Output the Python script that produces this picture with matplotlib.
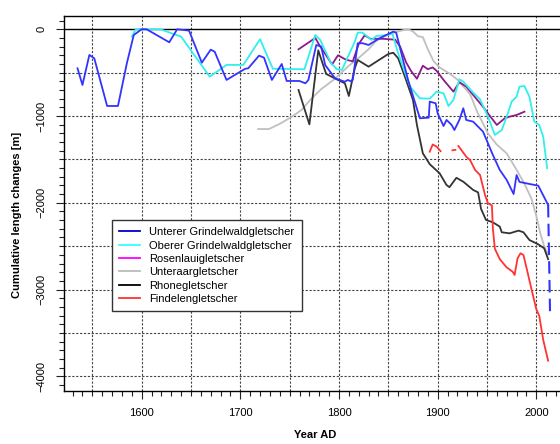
import numpy as np
import matplotlib
matplotlib.use("Agg")
import matplotlib.pyplot as plt
from matplotlib.lines import Line2D
from matplotlib.ticker import MultipleLocator

plt.rcParams['font.family'] = ['Liberation Sans', 'DejaVu Sans']

# Unterer Grindelwaldgletscher
ugr_year = [1535, 1540, 1547, 1552, 1565, 1576, 1585, 1592, 1600, 1605, 1628, 1636, 1648,
            1661, 1670, 1674, 1686, 1705, 1708, 1719, 1724, 1732, 1742, 1747, 1760, 1766,
            1769, 1777, 1782, 1786, 1791, 1796, 1806, 1809, 1812, 1814, 1819, 1824, 1830,
            1841, 1855, 1858, 1870, 1882, 1891, 1892, 1898, 1900, 1906, 1909, 1914, 1917,
            1922, 1926, 1929, 1936, 1946, 1956, 1963, 1970, 1977, 1980, 1983, 1990, 2002, 2012]
ugr_len = [-450, -642, -296, -335, -884, -884, -392, -66, 0, 0, -150, 0, -15,
           -385, -235, -258, -584, -455, -450, -304, -327, -584, -400, -596, -596, -623,
           -584, -181, -200, -411, -489, -565, -604, -584, -600, -584, -161, -161, -181,
           -104, -27, -39, -584, -1026, -1019, -834, -853, -969, -1115, -1045, -1100, -1161,
           -1045, -911, -1045, -1065, -1180, -1449, -1622, -1737, -1899, -1680, -1760, -1776, -1803, -2025]
# letzter Abschnitt gestrichelt
ugr_dash_year = [2012, 2014]
ugr_dash_len = [-2025, -3320]

# Oberer Grindelwaldgletscher
ogr_year = [1590, 1594, 1619, 1640, 1669, 1686, 1703, 1720, 1733, 1765, 1776, 1781, 1792,
            1798, 1803, 1816, 1819, 1824, 1833, 1838, 1850, 1854, 1860, 1872, 1882, 1892,
            1899, 1906, 1911, 1916, 1922, 1926, 1936, 1943, 1951, 1958, 1965, 1970, 1975,
            1980, 1983, 1988, 1993, 1998, 2003, 2007, 2011]
ogr_len = [-85, 0, 0, -85, -546, -411, -411, -115, -455, -461, -66, -123, -392,
           -461, -469, -143, -39, -39, -123, -77, -66, -46, -277, -661, -796, -800,
           -719, -738, -884, -815, -577, -604, -731, -807, -1007, -1218, -1161, -1007, -834,
           -777, -661, -654, -777, -1065, -1103, -1238, -1602]

# Rosenlauigletscher
ros_year = [1759, 1776, 1780, 1793, 1799, 1807, 1814, 1820, 1826, 1832, 1845, 1857, 1862,
            1868, 1873, 1879, 1885, 1890, 1895, 1899, 1906, 1916, 1922, 1929, 1945, 1960,
            1968, 1973, 1980, 1988]
ros_len = [-231, -100, -180, -405, -300, -350, -370, -170, -70, -110, -110, -120, -200,
           -380, -480, -570, -420, -460, -440, -480, -584, -719, -610, -661, -880, -1103,
           -1026, -1007, -988, -950]

# Unteraargletscher
uaa_year = [1718, 1729, 1740, 1752, 1762, 1772, 1782, 1796, 1810, 1820, 1830, 1838, 1848,
            1855, 1865, 1870, 1875, 1880, 1885, 1890, 1896, 1902, 1912, 1920, 1933, 1940,
            1951, 1960, 1970, 1980, 1988, 1995, 2000, 2004, 2008, 2012]
uaa_len = [-1150, -1150, -1090, -1010, -930, -800, -690, -570, -420, -330, -230, -130, -70,
           -40, -10, 0, -25, -80, -90, -230, -370, -440, -510, -580, -750, -950,
           -1200, -1330, -1430, -1620, -1780, -1950, -2150, -2350, -2500, -2600]

# Rhonegletscher
rho_year = [1759, 1770, 1779, 1787, 1799, 1806, 1810, 1816, 1819, 1830, 1850, 1855, 1860,
            1868, 1875, 1879, 1885, 1892, 1902, 1909, 1912, 1919, 1926, 1936, 1941, 1944,
            1949, 1956, 1963, 1965, 1973, 1982, 1987, 1993, 2002, 2008, 2012]
rho_len = [-700, -1096, -243, -515, -584, -623, -769, -450, -354, -431, -285, -270, -334,
           -584, -815, -1103, -1430, -1555, -1660, -1795, -1820, -1712, -1757, -1852, -1880, -2070,
           -2198, -2225, -2275, -2340, -2352, -2321, -2340, -2429, -2479, -2525, -2650]

# Findelengletscher (Lücken = nan)
fin_year = [1892, 1895, 1899, 1903, 1909, 1915, 1918, 1919, 1921, 1929, 1933, 1938, 1943,
            1948, 1951, 1955, 1956, 1958, 1963, 1970, 1976, 1978, 1981, 1984, 1987, 1991,
            1995, 2000, 2003, 2007, 2012]
fin_len = [-1411, -1328, -1353, -1405, np.nan, -1395, -1390, np.nan, -1345, -1468, -1510, -1622, -1680,
           -1910, -2006, -2030, -2300, -2530, -2650, -2745, -2794, -2832, -2640, -2582, -2602, -2794,
           -2990, -3226, -3303, -3580, -3820]

glaciers = ["Unterer Grindelwaldgletscher", "Oberer Grindelwaldgletscher", "Rosenlauigletscher",
            "Unteraargletscher", "Rhonegletscher", "Findelengletscher"]
legend_colors = ['#0000cc', '#33ffff', '#ff00ff', '#bbbbbb', '#000000', '#ff3333']

fig = plt.figure(figsize=(5.6, 4.44), dpi=100)
ax = fig.add_axes([64 / 560, 1 - 390.7 / 444, 501.9 / 560, 374.7 / 444])

# Gitter
for gx in np.arange(1550, 2001, 50):
    ax.axvline(gx, color='#444444', lw=0.8, ls=(0, (2, 1.5)), zorder=1)
for gy in np.arange(-4000, -1, 500):
    ax.axhline(gy, color='#444444', lw=0.8, ls=(0, (2, 1.5)), zorder=1)
ax.axhline(0, color='black', lw=1.0, zorder=1)

lw = 1.3
ax.plot(uaa_year, uaa_len, color='#c0c0c0', lw=lw, zorder=2)
ax.plot(rho_year, rho_len, color='#333333', lw=lw, zorder=3)
ax.plot(ros_year, ros_len, color='#8b1a8b', lw=lw, zorder=4)
ax.plot(ogr_year, ogr_len, color='#33eeee', lw=lw, zorder=5)
ax.plot(ugr_year, ugr_len, color='#3333ff', lw=lw, zorder=6)
ax.plot(ugr_dash_year, ugr_dash_len, color='#3333ff', lw=1.5, ls=(0, (6, 3)), zorder=6)
ax.plot(fin_year, fin_len, color='#ff3333', lw=lw, zorder=7)

ax.set_xlim(1521.3, 2030)
ax.set_ylim(-4166, 153)

ax.xaxis.set_major_locator(MultipleLocator(100))
ax.xaxis.set_minor_locator(MultipleLocator(10))
ax.yaxis.set_major_locator(MultipleLocator(1000))
ax.yaxis.set_minor_locator(MultipleLocator(100))
ax.tick_params(which='major', direction='out', length=6, width=0.8, labelsize=8, color='#222222')
ax.tick_params(which='minor', direction='out', length=3.5, width=0.8, color='#222222')
ax.tick_params(axis='x', pad=6.5)
ax.tick_params(axis='y', pad=6.5)
for lab in ax.get_yticklabels():
    lab.set_rotation(90)
    lab.set_va('center')
for sp in ax.spines.values():
    sp.set_linewidth(1.0)

ax.set_xlabel('Year AD', fontsize=8, fontweight='bold')
ax.xaxis.set_label_coords(0.5, -0.105)
ax.set_ylabel('Cumulative length changes [m]', fontsize=8, fontweight='bold')
ax.yaxis.set_label_coords(-0.084, 0.47)

handles = [Line2D([], [], color=c, lw=1.3) for c in legend_colors]
leg = ax.legend(handles, glaciers, loc='upper left', bbox_to_anchor=(111.7 / 560, 1 - 220 / 444),
                bbox_transform=fig.transFigure, borderaxespad=0, fancybox=False, framealpha=1,
                edgecolor='#333333', fontsize=8, handlelength=1.9, handletextpad=0.85,
                labelspacing=0.3, borderpad=0.65)
leg.get_frame().set_linewidth(1.0)
leg.set_zorder(10)

plt.savefig('out.png', dpi=100)
